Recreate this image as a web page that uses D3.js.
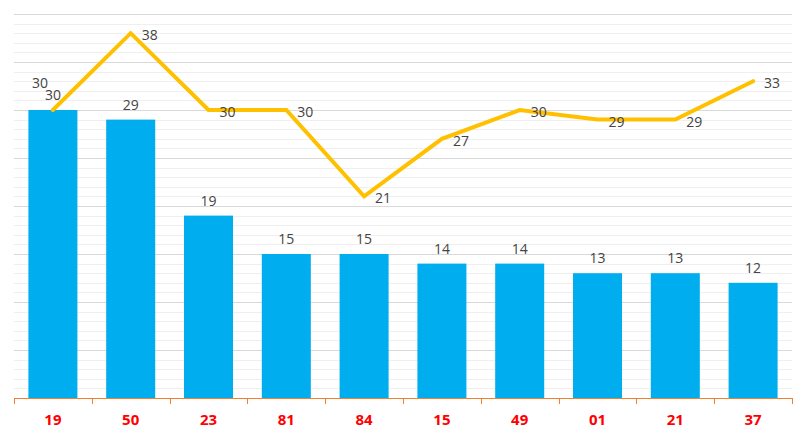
<!DOCTYPE html>
<html><head><meta charset="utf-8">
<script src="https://cdn.jsdelivr.net/npm/d3@7/dist/d3.min.js"></script>
<style>body{margin:0;background:#fff}svg{display:block}</style>
</head><body><svg id="c" width="806" height="438"></svg>
<script>
const categories = ["19","50","23","81","84","15","49","01","21","37"];
const barValues = [30,29,19,15,15,14,14,13,13,12];
const lineValues = [30,38,30,30,21,27,30,29,29,33];
const yMax = 40;

const svg = d3.select("#c");
const m = {left:14, right:14, top:14, bottom:40};
const W = 806, H = 438;
const x = d3.scaleBand().domain(categories).range([m.left, W - m.right]).paddingInner(0.37).paddingOuter(0.185);
const xb = d3.scaleBand().domain(categories).range([m.left, W - m.right]);
const y = d3.scaleLinear().domain([0, yMax]).range([H - m.bottom, m.top]);
const font = "'Open Sans', 'Noto Sans', sans-serif";

// gridlines
const g = svg.append("g");
d3.range(1, yMax + 1).forEach(v => {
  g.append("line").attr("x1", m.left).attr("x2", W - m.right)
    .attr("y1", Math.round(y(v)) + 0.5).attr("y2", Math.round(y(v)) + 0.5)
    .attr("stroke", v % 5 === 0 ? "#d9d9d9" : "#efefef").attr("stroke-width", 1);
});

// bars
svg.append("g").selectAll("rect").data(barValues).join("rect")
  .attr("x", (d,i) => x(categories[i])).attr("width", x.bandwidth())
  .attr("y", d => y(d)).attr("height", d => y(0) - y(d))
  .attr("fill", "#00aeef");

// axis
const axis = svg.append("g").attr("transform", `translate(0,${y(0)})`);
axis.append("line").attr("x1", m.left).attr("x2", W - m.right).attr("y1", 0.5).attr("y2", 0.5)
  .attr("stroke", "#f08030").attr("stroke-width", 1);
const bounds = categories.map(c => xb(c)).concat([W - m.right]);
axis.selectAll("line.t").data(bounds).join("line").attr("class","t")
  .attr("x1", d => Math.round(d) + 0.5).attr("x2", d => Math.round(d) + 0.5)
  .attr("y1", 0).attr("y2", 6).attr("stroke", "#f08030");
axis.selectAll("text").data(categories).join("text")
  .attr("x", d => xb(d) + xb.bandwidth()/2).attr("y", 27)
  .attr("text-anchor", "middle").attr("font-family", font).attr("font-size", 15)
  .attr("font-weight", "bold").attr("fill", "#ff0000").text(d => d);

// bar labels
svg.append("g").selectAll("text").data(barValues).join("text")
  .attr("x", (d,i) => x(categories[i]) + x.bandwidth()/2).attr("y", d => y(d) - 10)
  .attr("text-anchor", "middle").attr("font-family", font).attr("font-size", 14)
  .attr("fill", "#444").text(d => d);

// line
const cx = i => xb(categories[i]) + xb.bandwidth()/2;
svg.append("path").datum(lineValues)
  .attr("d", d3.line().x((d,i) => cx(i)).y(d => y(d)))
  .attr("fill", "none").attr("stroke", "#ffc000").attr("stroke-width", 4)
  .attr("stroke-linejoin", "miter").attr("stroke-linecap", "round");

// line labels (right of point; if the point sits on the bar top, move label up-left)
svg.append("g").selectAll("text").data(lineValues).join("text")
  .each(function(d, i) {
    const collide = d === barValues[i];
    d3.select(this)
      .attr("x", collide ? cx(i) - 5 : cx(i) + 11)
      .attr("y", collide ? y(d) - 22 : y(d) + 7)
      .attr("text-anchor", collide ? "end" : "start");
  })
  .attr("font-family", font).attr("font-size", 14).attr("fill", "#444").text(d => d);
</script></body></html>
